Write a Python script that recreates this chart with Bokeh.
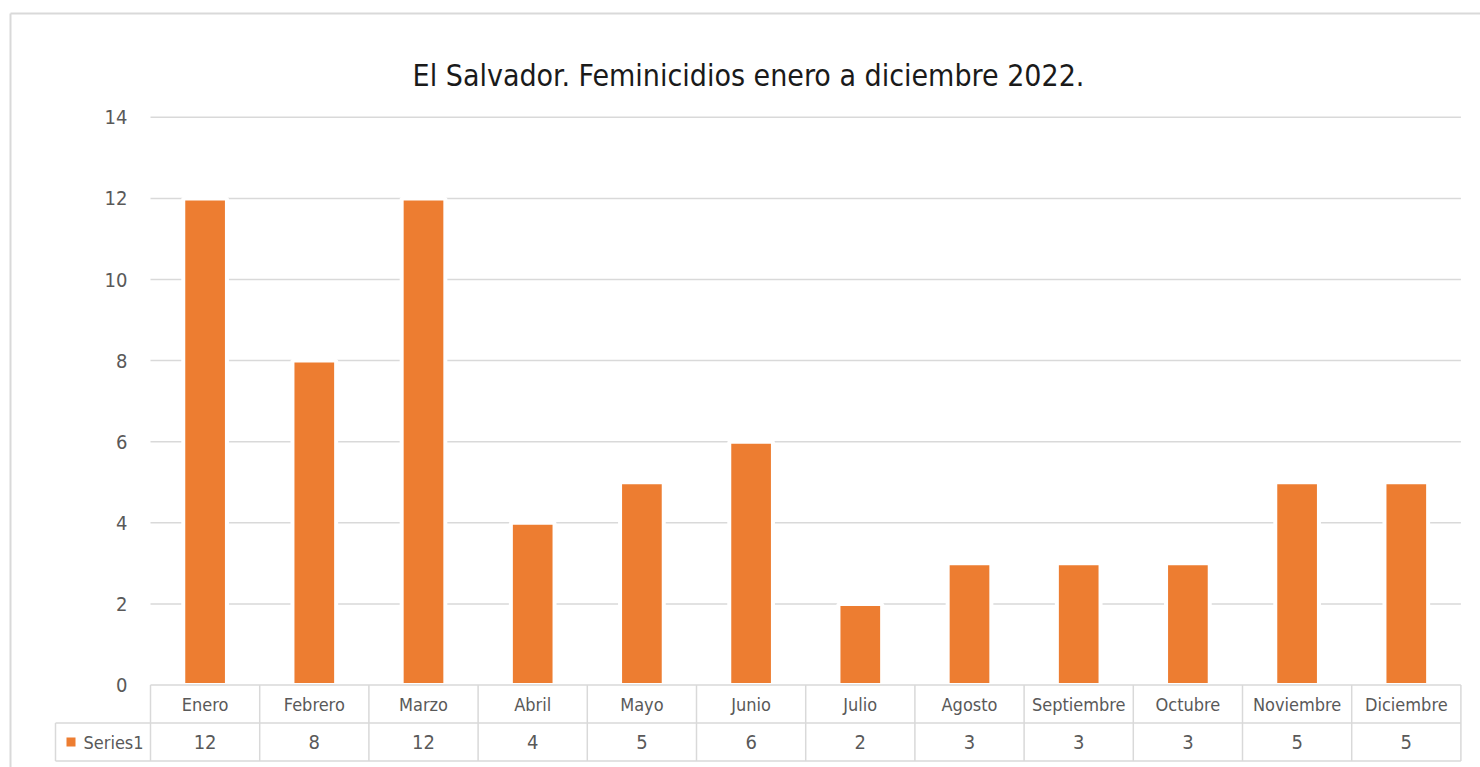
from bokeh.plotting import figure
from bokeh.models import Range1d, ColumnDataSource
from bokeh.core.properties import value
from bokeh.embed import file_html
from bokeh.resources import INLINE

# ---- data ----
months = ["Enero", "Febrero", "Marzo", "Abril", "Mayo", "Junio", "Julio",
          "Agosto", "Septiembre", "Octubre", "Noviembre", "Diciembre"]
feminicidios = [12, 8, 12, 4, 5, 6, 2, 3, 3, 3, 5, 5]
series_name = "Series1"
y_ticks = [0, 2, 4, 6, 8, 10, 12, 14]
title_text = "El Salvador. Feminicidios enero a diciembre 2022."

# ---- layout (canvas pixels) ----
W, H = 1480, 767
COL_W = 109.2        # width of one category column
TABLE_X0 = 150.0     # left edge of first category column
ZERO_Y = 684.5       # pixel row of value 0
PX_PER_UNIT = 40.55  # pixels per unit on value axis
ROW_H = 38.0
LEGEND_X0 = 55.0

FONT = "DejaVu Sans Condensed"
TXT = "#595959"
LINE = "#D9D9D9"
ORANGE = "#ED7D31"


def dx(px):
    return 0.5 + (px - TABLE_X0) / COL_W


def dy(py):
    return (ZERO_Y - py) / PX_PER_UNIT


p = figure(width=W, height=H,
           x_range=Range1d(dx(0), dx(W)), y_range=Range1d(dy(H), dy(0)),
           x_axis_type=None, y_axis_type=None,
           output_backend="svg", toolbar_location=None, min_border=0)
p.outline_line_color = None
p.background_fill_color = "white"
p.border_fill_color = "white"
p.xgrid.visible = False
p.ygrid.visible = False

n = len(months)
xs = list(range(1, n + 1))
left_edge = 0.5
right_edge = n + 0.5

# outer chart border (only top and left visible in window)
p.segment(x0=[dx(10), dx(10)], y0=[dy(13), dy(13)], x1=[dx(10), dx(W + 5)], y1=[dy(H + 5), dy(13)],
          line_color=LINE, line_width=2)

# gridlines
grid_y = [t for t in y_ticks if t > 0]
p.segment(x0=[left_edge] * len(grid_y), y0=grid_y, x1=[right_edge] * len(grid_y), y1=grid_y,
          line_color=LINE, line_width=1.5)

# bars
src = ColumnDataSource(dict(x=xs, top=feminicidios, month=months,
                            label=[str(v) for v in feminicidios]))
p.vbar(x="x", top="top", bottom=0, width=0.4, source=src,
       fill_color=ORANGE, line_color="white", line_width=4)

# y tick labels
p.text(x=[dx(127)] * len(y_ticks), y=y_ticks, text=[str(t) for t in y_ticks],
       text_align="right", text_baseline="middle", text_color=TXT,
       text_font=value(FONT), text_font_size="20px")

# title
p.text(x=[dx(748)], y=[dy(75)], text=[title_text], text_align="center",
       text_baseline="alphabetic", text_color="#1a1a1a",
       text_font=value(FONT), text_font_size="30px")

# data table lines
row1_bottom = dy(ZERO_Y + ROW_H)
row2_bottom = dy(ZERO_Y + 2 * ROW_H)
vx = [i + 0.5 for i in range(0, n + 1)]
p.segment(x0=vx, y0=[0] * len(vx), x1=vx, y1=[row2_bottom] * len(vx),
          line_color=LINE, line_width=1.5)
p.segment(x0=[dx(LEGEND_X0)], y0=[row1_bottom], x1=[dx(LEGEND_X0)], y1=[row2_bottom],
          line_color=LINE, line_width=1.5)
p.segment(x0=[left_edge, dx(LEGEND_X0), dx(LEGEND_X0)], y0=[0, row1_bottom, row2_bottom],
          x1=[right_edge] * 3, y1=[0, row1_bottom, row2_bottom],
          line_color=LINE, line_width=1.5)

# table texts
p.text(x="x", y=dy(ZERO_Y + ROW_H / 2), text="month", source=src,
       text_align="center", text_baseline="middle", text_color=TXT,
       text_font=value(FONT), text_font_size="18px")
p.text(x="x", y=dy(ZERO_Y + 1.5 * ROW_H), text="label", source=src,
       text_align="center", text_baseline="middle", text_color=TXT,
       text_font=value(FONT), text_font_size="20px")

# legend key in table
p.scatter(x=[dx(70.5)], y=[dy(ZERO_Y + 1.5 * ROW_H)], marker="square", size=9,
          fill_color=ORANGE, line_color=None)
p.text(x=[dx(83)], y=[dy(ZERO_Y + 1.5 * ROW_H)], text=[series_name],
       text_align="left", text_baseline="middle", text_color=TXT,
       text_font=value(FONT), text_font_size="18px")

open("out.html", "w").write(file_html(p, INLINE))
